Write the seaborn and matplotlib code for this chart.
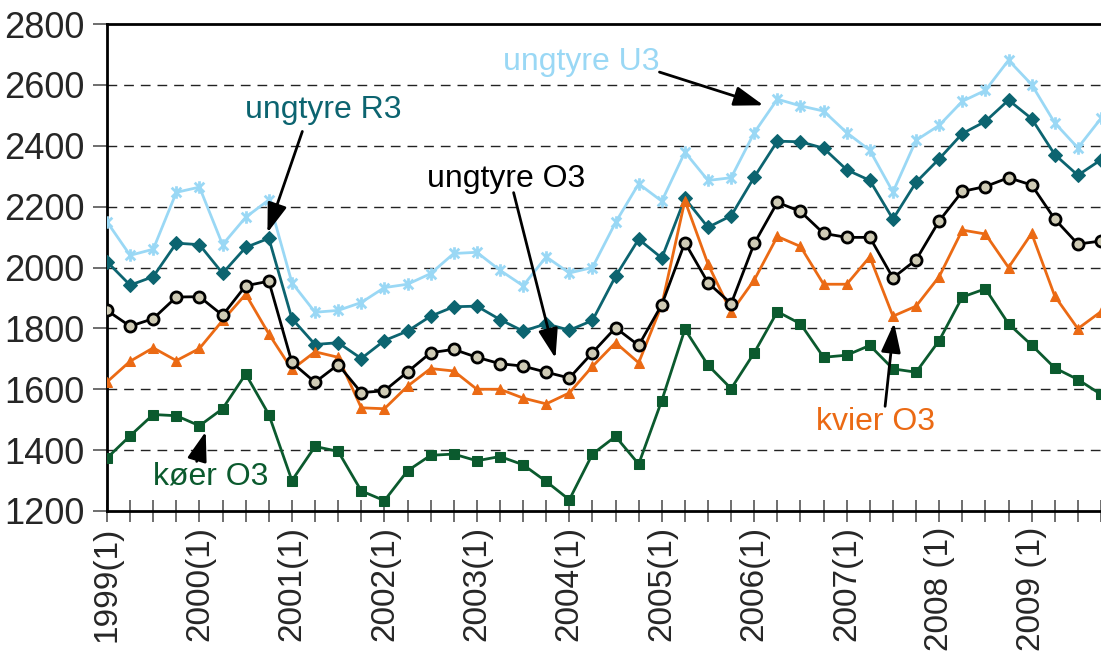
import numpy as np
import pandas as pd
import matplotlib
matplotlib.use("Agg")
import matplotlib.pyplot as plt
from matplotlib.path import Path
import seaborn as sns

# quarterly prices, 1999(1) .. 2009(4)
years = list(range(1999, 2010))
year_labels = ["1999(1)", "2000(1)", "2001(1)", "2002(1)", "2003(1)", "2004(1)",
               "2005(1)", "2006(1)", "2007(1)", "2008 (1)", "2009 (1)"]

ungtyre_u3 = [2150, 2040, 2060, 2247, 2264, 2075, 2165, 2222, 1950, 1853, 1859, 1885,
              1934, 1945, 1980, 2046, 2050, 1991, 1940, 2035, 1982, 2000, 2148, 2275,
              2218, 2379, 2286, 2295, 2443, 2553, 2531, 2514, 2443, 2385, 2248, 2418,
              2467, 2546, 2582, 2681, 2601, 2475, 2393, 2490]
ungtyre_r3 = [2019, 1942, 1970, 2080, 2075, 1981, 2066, 2096, 1832, 1747, 1753, 1701,
              1760, 1791, 1840, 1871, 1873, 1829, 1791, 1815, 1794, 1826, 1971, 2093,
              2031, 2227, 2132, 2170, 2297, 2415, 2413, 2392, 2321, 2286, 2159, 2280,
              2357, 2440, 2480, 2550, 2489, 2371, 2303, 2354]
ungtyre_o3 = [1859, 1807, 1832, 1903, 1904, 1843, 1940, 1955, 1688, 1623, 1681, 1589,
              1595, 1657, 1720, 1731, 1705, 1684, 1676, 1656, 1637, 1720, 1802, 1744,
              1878, 2082, 1950, 1881, 2079, 2214, 2184, 2112, 2099, 2099, 1966, 2025,
              2153, 2250, 2266, 2295, 2271, 2159, 2077, 2087]
kvier_o3 = [1624, 1692, 1736, 1694, 1734, 1826, 1912, 1782, 1665, 1723, 1705, 1539,
            1536, 1610, 1668, 1660, 1600, 1600, 1571, 1552, 1588, 1675, 1753, 1687,
            1877, 2220, 2011, 1853, 1959, 2102, 2069, 1945, 1945, 2035, 1840, 1873,
            1970, 2123, 2110, 2000, 2112, 1906, 1799, 1855]
koer_o3 = [1374, 1447, 1517, 1513, 1480, 1536, 1650, 1517, 1300, 1412, 1396, 1266,
           1234, 1332, 1383, 1387, 1365, 1379, 1352, 1297, 1237, 1387, 1445, 1354,
           1563, 1797, 1679, 1602, 1720, 1855, 1815, 1705, 1712, 1744, 1667, 1656,
           1760, 1903, 1930, 1815, 1745, 1670, 1632, 1583]

quarter = np.arange(len(ungtyre_u3))

sns.set_theme(style="ticks")
plt.rcParams["font.family"] = ["Liberation Sans", "DejaVu Sans"]

c_u3 = "#9AD8F5"
c_r3 = "#0C6470"
c_o3 = "#000000"
c_kv = "#EB6A14"
c_ko = "#0B5A2E"

# excel-like asterisk marker: X with a vertical bar
star = Path([(-1, -1), (1, 1), (-1, 1), (1, -1), (0, -1.3), (0, 1.3)],
            [Path.MOVETO, Path.LINETO, Path.MOVETO, Path.LINETO, Path.MOVETO, Path.LINETO])

fig = plt.figure(figsize=(11.01, 6.53), dpi=100)
ax = fig.add_axes([107 / 1101, 1 - 511 / 653, 1 - 107 / 1101, (511 - 24) / 653])

sns.lineplot(x=quarter, y=ungtyre_u3, ax=ax, color=c_u3, lw=2, marker=star,
             markersize=9, markeredgewidth=2, markeredgecolor=c_u3, zorder=3)
sns.lineplot(x=quarter, y=ungtyre_r3, ax=ax, color=c_r3, lw=2, marker="D",
             markersize=7, markeredgecolor=c_r3, zorder=3)
sns.lineplot(x=quarter, y=kvier_o3, ax=ax, color=c_kv, lw=2, marker="^",
             markersize=6.5, markeredgecolor=c_kv, zorder=3)
sns.lineplot(x=quarter, y=ungtyre_o3, ax=ax, color=c_o3, lw=2, marker="o",
             markersize=8, markerfacecolor="#CFCBB5", markeredgecolor="black",
             markeredgewidth=2, zorder=4)
sns.lineplot(x=quarter, y=koer_o3, ax=ax, color=c_ko, lw=2, marker="s",
             markersize=7.5, markeredgecolor=c_ko, zorder=3)

ax.set_xlim(0, 42.85)
ax.set_ylim(1200, 2800)
ax.set_yticks(range(1200, 2801, 200))
ax.set_xticks(quarter)
ax.set_xticklabels([year_labels[i // 4] if i % 4 == 0 else "" for i in quarter],
                   rotation=90, fontsize=24)
ax.tick_params(axis="y", labelsize=26, direction="out", length=10, width=1.2,
               color="#555555", pad=6)
ax.tick_params(axis="x", direction="inout", length=16, width=1.2, color="#555555", pad=3)

for y in range(1400, 2800, 200):
    ax.axhline(y, color="#222222", lw=1, ls=(0, (7, 5)), zorder=1)

for side in ["left", "top", "bottom"]:
    ax.spines[side].set_color("black")
    ax.spines[side].set_linewidth(2)
ax.spines["right"].set_visible(False)
ax.set_xlabel("")
ax.set_ylabel("")

arrow = dict(arrowstyle="-|>,head_length=0.9,head_width=0.3", color="black",
             lw=2, mutation_scale=20, shrinkA=0, shrinkB=0)

ax.text(20.5, 2675, "ungtyre U3", color=c_u3, fontsize=23, ha="center", va="center")
ax.annotate("", xy=(28.4, 2533), xytext=(23.9, 2642), arrowprops=arrow)

ax.text(9.35, 2516, "ungtyre R3", color=c_r3, fontsize=23, ha="center", va="center")
ax.annotate("", xy=(6.94, 2114), xytext=(8.45, 2447), arrowprops=arrow)

ax.text(17.28, 2292, "ungtyre O3", color=c_o3, fontsize=23, ha="center", va="center")
ax.annotate("", xy=(19.4, 1702), xytext=(17.59, 2246), arrowprops=arrow)

ax.text(33.25, 1494, "kvier O3", color=c_kv, fontsize=23, ha="center", va="center")
ax.annotate("", xy=(34.05, 1818), xytext=(33.66, 1544), arrowprops=arrow)

ax.text(4.48, 1313, "køer O3", color=c_ko, fontsize=23, ha="center", va="center")
ax.annotate("", xy=(4.27, 1461), xytext=(3.88, 1363), arrowprops=arrow)

fig.savefig("out.png", dpi=100)
